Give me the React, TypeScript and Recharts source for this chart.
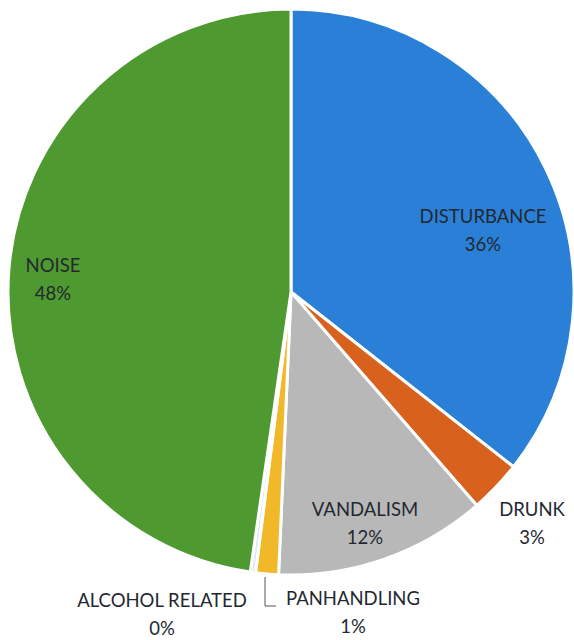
import { Pie, PieChart } from "recharts";

const categories = ["DISTURBANCE", "DRUNK", "VANDALISM", "PANHANDLING", "ALCOHOL RELATED", "NOISE"];
const shares = [35.6, 3.0, 12.1, 1.3, 0.3, 47.7];
const colors = ["#2a80d6", "#d8611e", "#b8b8b8", "#f1b829", "#dfeaf6", "#4f9a30"];

// where each label's first line sits, relative to the pie centre
const labelOffsets = [
  [192, -69],
  [241, 224],
  [74, 224],
  [62, 313],
  [-129, 315],
  [-238, -20],
];

const data = categories.map((name, i) => ({ name, value: shares[i], fill: colors[i] }));

const FONT = "Lato, 'Open Sans', sans-serif";

function renderLabel(props: any) {
  const { cx, cy, index, percent, midAngle, outerRadius } = props;
  const [dx, dy] = labelOffsets[index];
  const x = cx + dx;
  const y = cy + dy;
  const pct = `${Math.round(percent * 100)}%`;
  let leader = null;
  if (categories[index] === "PANHANDLING") {
    const rad = (Math.PI / 180) * midAngle;
    const ex = cx + outerRadius * Math.cos(rad) - 2;
    const ey = cy - outerRadius * Math.sin(rad) + 3;
    leader = (
      <polyline
        points={`${ex},${ey} ${ex},${y + 1} ${ex + 11},${y + 1}`}
        fill="none"
        stroke="#555"
        strokeWidth={1}
      />
    );
  }
  return (
    <g key={`lbl-${index}`}>
      {leader}
      <text x={x} y={y} textAnchor="middle" fontFamily={FONT} fontSize={18.5} fill="#232830">
        {categories[index]}
      </text>
      <text x={x} y={y + 28} textAnchor="middle" fontFamily={FONT} fontSize={18.5} fill="#232830">
        {pct}
      </text>
    </g>
  );
}

export default function App() {
  return (
    <div style={{ position: "absolute", left: 0, top: 0, width: 574, height: 640, background: "#fff" }}>
      <PieChart width={574} height={640} margin={{ top: 0, right: 0, bottom: 0, left: 0 }}>
        <Pie
          data={data}
          dataKey="value"
          nameKey="name"
          cx={291}
          cy={292}
          outerRadius={283}
          startAngle={90}
          endAngle={-270}
          stroke="#ffffff"
          strokeWidth={3}
          label={renderLabel}
          labelLine={false}
          isAnimationActive={false}
        />
      </PieChart>
    </div>
  );
}
